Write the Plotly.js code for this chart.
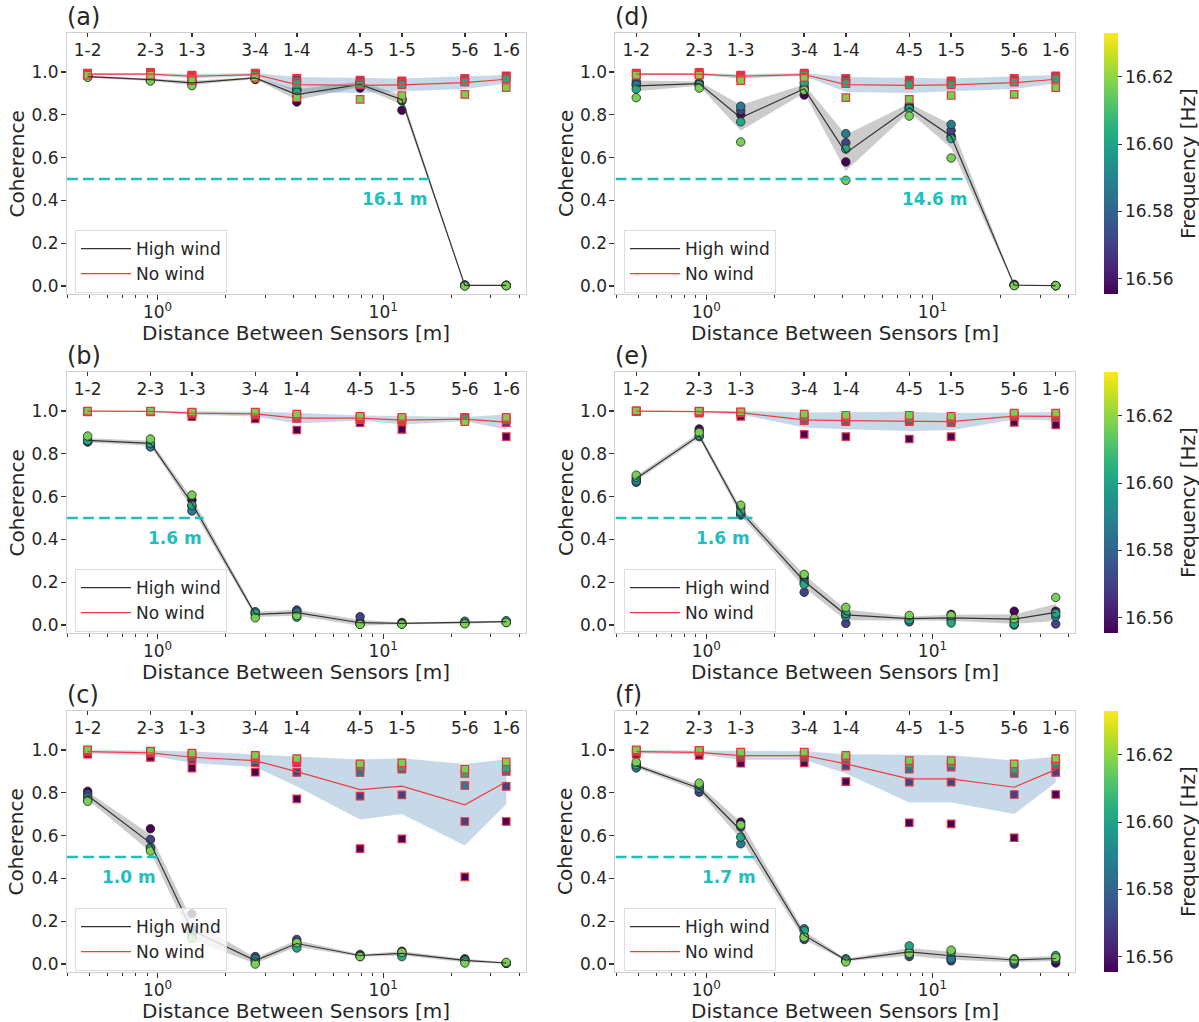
<!DOCTYPE html>
<html><head><meta charset="utf-8">
<script src="https://cdn.plot.ly/plotly-3.0.1.min.js"></script>
<style>html,body{margin:0;padding:0;background:#fff}#chart{width:1199px;height:1022px}</style>
</head><body><div id="chart"></div>
<script>
// ---------------- data ----------------
const pairLabels = ['1-2','2-3','1-3','3-4','1-4','4-5','1-5','5-6','1-6'];
const distances  = [0.49, 0.93, 1.42, 2.71, 4.14, 7.9, 12.1, 23.0, 35.1];
const frequencies = [16.556, 16.571, 16.587, 16.602, 16.617];
const panelLabels = ['(a)','(d)','(b)','(e)','(c)','(f)'];
const thresholds  = [16.1, 14.6, 1.6, 1.6, 1.0, 1.7];

// (a)
const highMeanA = [0.978,0.964,0.949,0.972,0.894,0.942,0.870,0.003,0.003];
const highStdA  = [0.005,0.006,0.010,0.005,0.025,0.012,0.022,0.003,0.002];
const highPtsA  = [[0.980,0.982,0.980,0.978,0.975],[0.962,0.965,0.968,0.960,0.958],[0.948,0.952,0.955,0.960,0.936],
  [0.965,0.972,0.975,0.970,0.968],[0.860,0.915,0.920,0.905,0.883],[0.925,0.945,0.955,0.950,0.940],
  [0.821,0.865,0.870,0.875,0.872],[0.005,0.004,0.003,0.002,0.000],[0.004,0.003,0.003,0.002,0.002]];
const noMeanA = [0.990,0.990,0.980,0.988,0.941,0.937,0.940,0.950,0.966];
const noStdA  = [0.005,0.005,0.010,0.007,0.035,0.035,0.030,0.030,0.020];
const noPtsA  = [[0.995,0.993,0.990,0.988,0.985],[0.998,0.995,0.990,0.988,0.985],[0.985,0.982,0.978,0.970,0.960],
  [0.995,0.990,0.988,0.985,0.975],[0.970,0.965,0.955,0.945,0.880],[0.962,0.958,0.950,0.940,0.872],
  [0.958,0.953,0.948,0.940,0.890],[0.970,0.965,0.958,0.952,0.895],[0.982,0.978,0.973,0.968,0.927]];
// (d)
const highMeanD = [0.935,0.946,0.786,0.922,0.622,0.833,0.700,0.004,0.002];
const highStdD  = [0.025,0.010,0.060,0.020,0.085,0.020,0.055,0.003,0.002];
const highPtsD  = [[0.940,0.955,0.940,0.920,0.880],[0.945,0.950,0.945,0.940,0.925],[0.800,0.820,0.840,0.767,0.673],
  [0.892,0.920,0.930,0.948,0.915],[0.580,0.669,0.712,0.640,0.494],[0.845,0.835,0.830,0.828,0.794],
  [0.700,0.727,0.755,0.689,0.598],[0.008,0.005,0.004,0.003,0.002],[0.002,0.002,0.002,0.002,0.002]];
const noMeanD = noMeanA, noStdD = noStdA, noPtsD = noPtsA;
// (b)
const highMeanB = [0.863,0.849,0.569,0.050,0.058,0.011,0.008,0.011,0.016];
const highStdB  = [0.010,0.012,0.025,0.012,0.014,0.014,0.004,0.005,0.004];
const highPtsB  = [[0.860,0.855,0.857,0.862,0.883],[0.845,0.835,0.832,0.848,0.869],[0.584,0.555,0.533,0.560,0.607],
  [0.050,0.060,0.062,0.055,0.034],[0.065,0.070,0.060,0.037,0.045],[0.015,0.039,0.005,0.004,0.003],
  [0.012,0.008,0.006,0.005,0.004],[0.012,0.010,0.018,0.008,0.006],[0.015,0.012,0.018,0.020,0.012]];
const noMeanB = [0.999,0.998,0.990,0.986,0.967,0.967,0.957,0.962,0.948];
const noStdB  = [0.002,0.002,0.008,0.012,0.025,0.012,0.020,0.010,0.035];
const noPtsB  = [[0.996,0.997,0.998,0.998,0.999],[0.996,0.997,0.998,0.998,0.999],[0.973,0.985,0.990,0.992,0.995],
  [0.963,0.980,0.985,0.990,0.995],[0.911,0.965,0.970,0.975,0.985],[0.945,0.960,0.965,0.970,0.975],
  [0.914,0.955,0.960,0.965,0.970],[0.965,0.960,0.970,0.965,0.950],[0.880,0.945,0.960,0.965,0.970]];
// (e)
const highMeanE = [0.685,0.885,0.530,0.205,0.048,0.030,0.034,0.028,0.059];
const highStdE  = [0.012,0.013,0.018,0.030,0.025,0.010,0.014,0.022,0.040];
const highPtsE  = [[0.680,0.667,0.672,0.690,0.700],[0.916,0.905,0.880,0.885,0.900],[0.550,0.514,0.520,0.530,0.560],
  [0.220,0.153,0.200,0.190,0.237],[0.050,0.008,0.040,0.055,0.083],[0.030,0.020,0.015,0.025,0.045],
  [0.050,0.030,0.025,0.010,0.045],[0.065,0.000,0.020,0.005,0.030],[0.065,0.005,0.040,0.055,0.129]];
const noMeanE = [0.999,0.997,0.992,0.958,0.955,0.951,0.950,0.976,0.975];
const noStdE  = [0.002,0.003,0.008,0.035,0.040,0.045,0.040,0.016,0.020];
const noPtsE  = [[0.997,0.998,0.999,0.999,1.000],[0.990,0.995,0.997,0.998,0.999],[0.975,0.990,0.992,0.995,0.996],
  [0.891,0.955,0.960,0.975,0.985],[0.880,0.950,0.955,0.970,0.980],[0.869,0.950,0.955,0.970,0.980],
  [0.880,0.945,0.950,0.965,0.975],[0.947,0.975,0.980,0.985,0.990],[0.935,0.970,0.975,0.985,0.990]];
// (c)
const highMeanC = [0.787,0.565,0.158,0.016,0.096,0.040,0.050,0.017,0.005];
const highStdC  = [0.018,0.040,0.045,0.013,0.015,0.006,0.010,0.008,0.003];
const highPtsC  = [[0.807,0.795,0.780,0.765,0.760],[0.632,0.582,0.545,0.540,0.528],[0.235,0.160,0.140,0.125,0.120],
  [0.020,0.035,0.025,0.010,0.000],[0.100,0.115,0.090,0.075,0.100],[0.040,0.045,0.040,0.035,0.035],
  [0.060,0.050,0.045,0.035,0.055],[0.020,0.025,0.020,0.015,0.005],[0.005,0.003,0.004,0.005,0.008]];
const noMeanC = [0.992,0.986,0.966,0.950,0.899,0.815,0.831,0.744,0.852];
const noStdC  = [0.008,0.012,0.027,0.030,0.070,0.140,0.130,0.190,0.105];
const noPtsC  = [[0.980,0.990,0.995,0.997,1.000],[0.965,0.985,0.990,0.993,0.995],[0.915,0.955,0.970,0.980,0.985],
  [0.896,0.940,0.955,0.970,0.975],[0.772,0.895,0.940,0.950,0.960],[0.539,0.784,0.895,0.925,0.935],
  [0.585,0.790,0.910,0.920,0.940],[0.407,0.666,0.834,0.890,0.910],[0.666,0.830,0.900,0.915,0.945]];
// (f)
const highMeanF = [0.927,0.821,0.624,0.135,0.019,0.057,0.039,0.019,0.026];
const highStdF  = [0.010,0.015,0.040,0.020,0.006,0.018,0.019,0.010,0.013];
const highPtsF  = [[0.930,0.925,0.916,0.930,0.943],[0.825,0.803,0.820,0.835,0.845],[0.663,0.640,0.562,0.593,0.650],
  [0.130,0.115,0.165,0.155,0.125],[0.020,0.015,0.025,0.020,0.010],[0.050,0.035,0.060,0.085,0.050],
  [0.030,0.015,0.025,0.055,0.065],[0.020,0.000,0.010,0.025,0.020],[0.005,0.020,0.030,0.040,0.030]];
const noMeanF = [0.992,0.989,0.974,0.974,0.935,0.865,0.865,0.826,0.908];
const noStdF  = [0.008,0.009,0.020,0.020,0.045,0.110,0.110,0.125,0.060];
const noPtsF  = [[0.980,0.990,0.995,0.998,1.000],[0.975,0.990,0.995,0.997,0.998],[0.938,0.965,0.975,0.985,0.990],
  [0.940,0.965,0.975,0.985,0.990],[0.852,0.925,0.955,0.965,0.975],[0.660,0.850,0.910,0.935,0.950],
  [0.655,0.850,0.920,0.935,0.950],[0.590,0.792,0.890,0.910,0.935],[0.792,0.895,0.935,0.945,0.960]];

// ---------------- layout/style ----------------
const panels = [
  {hm:highMeanA,hs:highStdA,hp:highPtsA,nm:noMeanA,ns:noStdA,np:noPtsA},
  {hm:highMeanD,hs:highStdD,hp:highPtsD,nm:noMeanD,ns:noStdD,np:noPtsD},
  {hm:highMeanB,hs:highStdB,hp:highPtsB,nm:noMeanB,ns:noStdB,np:noPtsB},
  {hm:highMeanE,hs:highStdE,hp:highPtsE,nm:noMeanE,ns:noStdE,np:noPtsE},
  {hm:highMeanC,hs:highStdC,hp:highPtsC,nm:noMeanC,ns:noStdC,np:noPtsC},
  {hm:highMeanF,hs:highStdF,hp:highPtsF,nm:noMeanF,ns:noStdF,np:noPtsF}
];
const W = 1199, H = 1022;
const colLeft = [67, 616], colRight = [526, 1076];
const rowTop = [33, 372, 711], rowH = 261;
const xRange = [-0.4017, 1.631];
const yRange = [-0.037, 1.182];
const cyan = '#1fbfbf';
const FONT = 'DejaVu Sans, Liberation Sans, sans-serif';
const minorVals = [0.4,0.5,0.6,0.7,0.8,0.9,2,3,4,5,6,7,8,9,20,30,40];
const cmin = 16.5555, cmax = 16.633;

const traces = [];
const layout = {
  width: W, height: H, margin:{l:0,r:0,t:0,b:0},
  paper_bgcolor:'#fff', plot_bgcolor:'#fff',
  font:{family:FONT, color:'#262626', size:17},
  showlegend:true, annotations:[], hovermode:false
};

panels.forEach((p, i) => {
  const n = i + 1;
  const col = i % 2, row = Math.floor(i / 2);
  const xa = n === 1 ? 'x' : 'x' + n;
  const ya = n === 1 ? 'y' : 'y' + n;
  const xtop = 'x' + (n + 6);
  const leg = n === 1 ? 'legend' : 'legend' + n;
  const xd = [colLeft[col] / W, colRight[col] / W];
  const yd = [1 - (rowTop[row] + rowH) / H, 1 - rowTop[row] / H];

  layout['xaxis' + (n === 1 ? '' : n)] = {
    domain: xd, anchor: ya, type: 'log', range: xRange,
    tickvals: [1, 10], ticktext: ['10<sup>0</sup>', '10<sup>1</sup>'],
    ticks: 'outside', ticklen: 5, tickwidth: 1.2, tickcolor: '#333', ticklabelstandoff: -2,
    minor: {tickmode: 'array', tickvals: minorVals, ticks: 'outside', ticklen: 3, tickwidth: 1, tickcolor: '#333'},
    showline: true, linecolor: '#cfcfcf', linewidth: 1, mirror: true,
    showgrid: false, zeroline: false, tickfont: {size: 17, color: '#262626'}
  };
  layout['yaxis' + (n === 1 ? '' : n)] = {
    domain: yd, anchor: xa, range: yRange,
    tickvals: [0, 0.2, 0.4, 0.6, 0.8, 1.0], tickformat: '.1f',
    ticks: 'outside', ticklen: 5, tickwidth: 1.2, tickcolor: '#333', ticklabelstandoff: -1,
    showline: true, linecolor: '#cfcfcf', linewidth: 1, mirror: true,
    showgrid: false, zeroline: false, tickfont: {size: 17, color: '#262626'}
  };
  layout['xaxis' + (n + 6)] = {
    overlaying: xa, anchor: ya, side: 'top', type: 'log', range: xRange,
    tickvals: distances, ticktext: pairLabels,
    ticks: 'inside', ticklen: 4, tickwidth: 1.5, tickcolor: '#333',
    ticklabelposition: 'inside', ticklabelstandoff: 8,
    showline: false, showgrid: false, zeroline: false,
    tickfont: {size: 17, color: '#262626'}
  };
  layout[leg] = {
    x: xd[0] + 8 / W, y: yd[0] + 64 / H, xanchor: 'left', yanchor: 'top',
    bgcolor: 'rgba(255,255,255,0.8)', bordercolor: '#dddddd', borderwidth: 1,
    font: {size: 17, color: '#262626'}, traceorder: 'normal', tracegroupgap: 0,
    itemwidth: 50
  };

  // bands
  const band = (mean, std, fillcolor) => {
    traces.push({x: distances, y: mean.map((m, k) => m + std[k]), xaxis: xa, yaxis: ya,
      mode: 'lines', line: {width: 0, color: 'rgba(0,0,0,0)'}, showlegend: false, hoverinfo: 'skip'});
    traces.push({x: distances, y: mean.map((m, k) => m - std[k]), xaxis: xa, yaxis: ya,
      mode: 'lines', line: {width: 0, color: 'rgba(0,0,0,0)'}, fill: 'tonexty', fillcolor: fillcolor,
      showlegend: false, hoverinfo: 'skip'});
  };
  band(p.hm, p.hs, 'rgba(120,120,120,0.38)');
  band(p.nm, p.ns, 'rgba(70,130,180,0.30)');

  // points
  const pts = (arr, symbol, size, lineColor, lineW, withScale) => {
    const xs = [], ys = [], cs = [];
    frequencies.forEach((f, k) => distances.forEach((d, j) => { xs.push(d); ys.push(arr[j][k]); cs.push(f); }));
    const m = {color: cs, colorscale: 'Viridis', cmin: cmin, cmax: cmax, symbol: symbol, size: size,
      line: {color: lineColor, width: lineW}, showscale: withScale};
    if (withScale) {
      m.colorbar = {x: 1104 / W, xanchor: 'left', xpad: 0, ypad: 0,
        y: (yd[0] + yd[1]) / 2, yanchor: 'middle', len: rowH, lenmode: 'pixels',
        thickness: 14, thicknessmode: 'pixels', outlinewidth: 0,
        tickvals: [16.56, 16.58, 16.60, 16.62], tickformat: '.2f',
        ticks: 'outside', ticklen: 4, tickcolor: '#333', tickfont: {size: 17, color: '#262626'},
        title: {text: 'Frequency [Hz]', side: 'right', font: {size: 20, color: '#262626'}}};
    }
    traces.push({x: xs, y: ys, xaxis: xa, yaxis: ya, mode: 'markers', marker: m, showlegend: false, hoverinfo: 'skip'});
  };
  pts(p.hp, 'circle', 8.5, '#222', 0.8, col === 1);
  pts(p.np, 'square', 7.5, '#e8353d', 1.2, false);

  // mean lines
  traces.push({x: distances, y: p.hm, xaxis: xa, yaxis: ya, mode: 'lines', name: 'High wind',
    line: {color: '#333', width: 1.2}, legend: leg, showlegend: true});
  traces.push({x: distances, y: p.nm, xaxis: xa, yaxis: ya, mode: 'lines', name: 'No wind',
    line: {color: '#f23c3c', width: 1.2}, legend: leg, showlegend: true});

  // threshold line
  traces.push({x: [Math.pow(10, xRange[0]), thresholds[i]], y: [0.5, 0.5], xaxis: xa, yaxis: ya,
    mode: 'lines', line: {color: cyan, width: 2.6, dash: '11px,5px'}, showlegend: false, hoverinfo: 'skip'});

  // invisible trace to attach top category axis
  traces.push({x: distances, y: distances.map(() => null), xaxis: xtop, yaxis: ya,
    mode: 'markers', marker: {opacity: 0}, showlegend: false, hoverinfo: 'skip'});

  layout.annotations.push({xref: xa, yref: ya, x: Math.log10(thresholds[i]), y: 0.405,
    text: '<b>' + thresholds[i].toFixed(1) + ' m</b>', showarrow: false, xanchor: 'right', yanchor: 'middle',
    font: {size: 17, color: cyan}});
  layout.annotations.push({xref: 'paper', yref: 'paper', x: xd[0], y: 1 - (rowTop[row] - 16) / H,
    text: panelLabels[i], showarrow: false, xanchor: 'left', yanchor: 'middle', xshift: -2,
    font: {size: 24, color: '#262626'}});
  // x-axis title
  layout.annotations.push({xref: 'paper', yref: 'paper', x: (xd[0] + xd[1]) / 2,
    y: 1 - (rowTop[row] + rowH + 39) / H,
    text: 'Distance Between Sensors [m]', showarrow: false, xanchor: 'center', yanchor: 'middle',
    font: {size: 20, color: '#262626'}});
  // y-axis title
  layout.annotations.push({xref: 'paper', yref: 'paper', x: (colLeft[col] - 50) / W,
    y: (yd[0] + yd[1]) / 2, textangle: -90,
    text: 'Coherence', showarrow: false, xanchor: 'center', yanchor: 'middle',
    font: {size: 20, color: '#262626'}});
});

Plotly.newPlot('chart', traces, layout, {staticPlot: true});
</script></body></html>
